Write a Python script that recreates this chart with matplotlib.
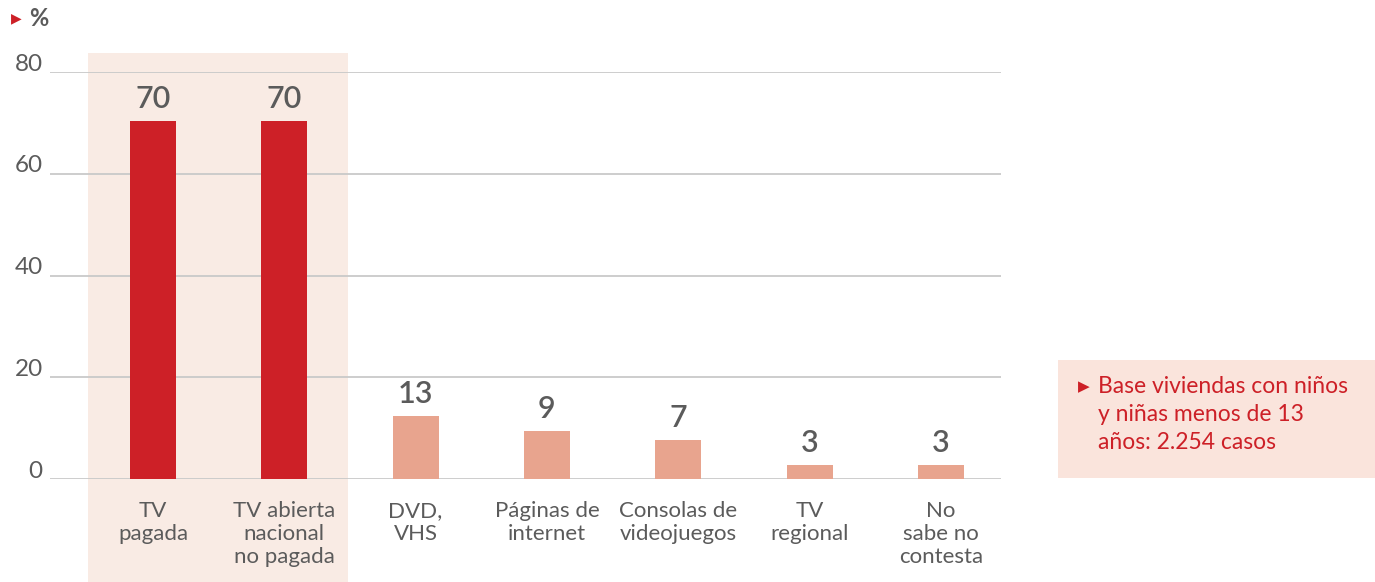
import matplotlib

matplotlib.use('Agg')
import matplotlib.pyplot as plt
from matplotlib.patches import Rectangle
import matplotlib.transforms as mtransforms

plt.rcParams['font.family'] = ['Lato', 'DejaVu Sans']

categories = ['TV\npagada', 'TV abierta\nnacional\nno pagada', 'DVD,\nVHS',
              'Páginas de\ninternet', 'Consolas de\nvideojuegos', 'TV\nregional',
              'No\nsabe no\ncontesta']
heights = [70.4, 70.4, 12.4, 9.5, 7.7, 2.8, 2.8]
value_labels = [70, 70, 13, 9, 7, 3, 3]
highlighted = [True, True, False, False, False, False, False]
yticks = [0, 20, 40, 60, 80]
note = 'Base viviendas con niños\ny niñas menos de 13\naños: 2.254 casos'

W, H = 1375, 582
fig = plt.figure(figsize=(W / 100, H / 100), dpi=100)

# ejes: linea 0 en y=479 px, linea 80 en y=72 px, de x=50 a x=1001 px
ax = fig.add_axes([50 / W, (H - 479) / H, (1001 - 50) / W, (479 - 72) / H])
ax.set_xlim(-0.784, 6.458)
ax.set_ylim(0, 80)
ax.axis('off')

gray = '#5b5b5b'
dark_red = '#cd2027'
salmon = '#e8a48e'

# banda resaltada detras de las dos primeras barras
trans_band = mtransforms.blended_transform_factory(ax.transData, fig.transFigure)
ax.add_patch(Rectangle((-0.495, 0), 1.98, (H - 53) / H, transform=trans_band,
                       facecolor='#f9ebe4', edgecolor='none', zorder=0, clip_on=False))

for y in yticks:
    ax.axhline(y, color='#c9c9c9', linewidth=1.3, zorder=1)
    ax.text(-0.84, y + 0.25, str(y), ha='right', va='baseline', fontsize=17.5,
            color=gray, clip_on=False)

x = list(range(len(categories)))
colors = [dark_red if h else salmon for h in highlighted]
bars = ax.bar(x, heights, width=0.35, color=colors, zorder=2)

for bar, val in zip(bars, value_labels):
    ax.text(bar.get_x() + bar.get_width() / 2, bar.get_height() + 1.6, f'{val}',
            ha='center', va='bottom', fontsize=22, color=gray, fontweight='semibold')

for xi, cat in zip(x, categories):
    ax.text(xi, -4.4, cat, ha='center', va='top', fontsize=16, color=gray,
            linespacing=1.16, clip_on=False)

# titulo del eje
fig.text(11 / W, 1 - 18 / H, '\u25B6', color=dark_red, fontsize=10,
         ha='left', va='center', family=['DejaVu Sans'])
fig.text(29 / W, 1 - 18 / H, '%', color=gray, fontsize=17, fontweight='bold',
         ha='left', va='center')

# recuadro con la nota
fig.patches.append(Rectangle((1058 / W, (H - 478) / H), (1375 - 1058) / W, 118 / H,
                             transform=fig.transFigure, facecolor='#fae4dc',
                             edgecolor='none', zorder=0))
fig.text(1078 / W, 1 - 387 / H, '\u25B6', color=dark_red, fontsize=11,
         ha='left', va='center', family=['DejaVu Sans'])
fig.text(1098 / W, 1 - 376 / H, note, color=dark_red, fontsize=16.5,
         ha='left', va='top', linespacing=1.42)

fig.savefig('out.png', dpi=100)
